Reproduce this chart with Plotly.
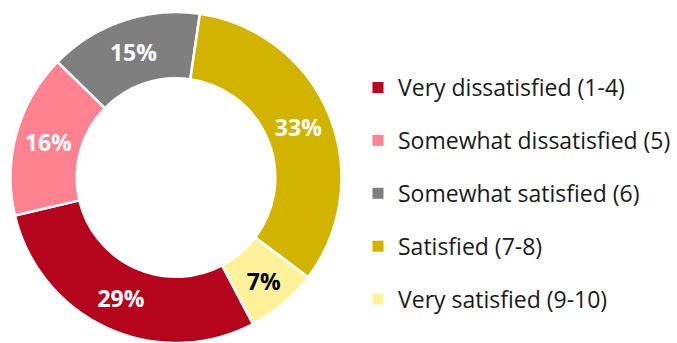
import plotly.graph_objects as go

# Data (clockwise order starting from "Very dissatisfied")
labels = ["Very dissatisfied (1-4)", "Somewhat dissatisfied (5)", "Somewhat satisfied (6)",
          "Satisfied (7-8)", "Very satisfied (9-10)"]
values = [29, 16, 15, 33, 7]
colors = ["#B5051C", "#FF8291", "#7F7F7F", "#D2B400", "#FFF09A"]
text_colors = ["white", "white", "white", "white", "black"]

FONT = "Open Sans"

fig = go.Figure()
fig.add_trace(go.Pie(
    labels=labels, values=values, sort=False, direction="clockwise", rotation=152.3,
    hole=0.6, marker=dict(colors=colors, line=dict(color="white", width=2.5)),
    texttemplate="%{value}%", textposition="inside", insidetextorientation="horizontal",
    textfont=dict(family=FONT, size=23, color=text_colors, weight="bold"),
    domain=dict(x=[8 / 677, 344 / 677], y=[0, 1]),
    showlegend=False, hoverinfo="label+percent",
))

# Legend entries (one per category, separate groups for spacing)
for lab, col in zip(labels, colors):
    fig.add_trace(go.Scatter(
        x=[None], y=[None], mode="markers", name=lab, legendgroup=lab,
        marker=dict(symbol="square", size=11, color=col),
    ))

fig.update_layout(
    width=677, height=343,
    margin=dict(l=0, r=0, t=12, b=0),
    paper_bgcolor="white", plot_bgcolor="white",
    xaxis=dict(visible=False), yaxis=dict(visible=False),
    legend=dict(
        x=358 / 677, xanchor="left", y=1 - 56 / 343, yanchor="top",
        font=dict(family=FONT, size=23, color="#1a1a1a"),
        tracegroupgap=20, bgcolor="rgba(0,0,0,0)",
    ),
)

fig.write_html("out.html")
